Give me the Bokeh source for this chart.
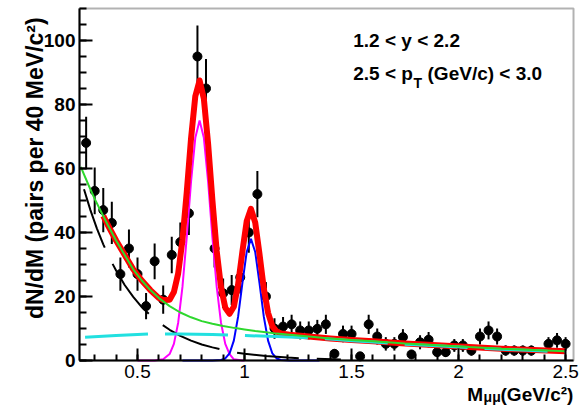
from bokeh.plotting import figure
from bokeh.models import Range1d, SingleIntervalTicker, CustomJSTickFormatter, Label, BoxAnnotation
from bokeh.embed import file_html
from bokeh.resources import INLINE

# ---- data points (M, counts per 40 MeV, error) ----
mass = [0.26, 0.30, 0.34, 0.38, 0.42, 0.46, 0.50, 0.54, 0.58, 0.62,
        0.66, 0.70, 0.74, 0.78, 0.82, 0.86, 0.90, 0.94, 0.98, 1.02,
        1.06, 1.10, 1.14, 1.18, 1.22, 1.26, 1.30, 1.34, 1.38, 1.42,
        1.46, 1.50, 1.54, 1.58, 1.62, 1.66, 1.70, 1.74, 1.78, 1.82,
        1.86, 1.90, 1.94, 1.98, 2.02, 2.06, 2.10, 2.14, 2.18, 2.22,
        2.26, 2.30, 2.34, 2.42, 2.46, 2.50]
counts = [68, 53, 47, 43, 27, 35, 27, 17, 31, 19,
          33, 37, 46, 95, 85, 35, 21, 22, 26, 40,
          52, 20, 10, 10.6, 11.3, 9.4, 9.4, 9.9, 11.3, 2.1,
          8.3, 8.3, 1.3, 11.3, 7.5, 5.2, 5.2, 7.3, 1.9, 5.7,
          6.5, 2.6, 2.6, 4.7, 4.7, 3.1, 7.5, 9.4, 7.5, 3.1,
          3.1, 3.1, 3.1, 5.2, 6.3, 5.2]
errors = [8.2, 7.3, 6.9, 6.6, 5.2, 5.9, 5.2, 4.1, 5.6, 4.4,
          5.7, 6.1, 6.8, 9.7, 9.2, 5.9, 4.6, 4.7, 5.1, 6.3,
          7.2, 4.5, 3.2, 3.0, 3.0, 2.8, 2.8, 2.8, 3.0, 1.4,
          2.6, 2.6, 1.1, 3.0, 2.5, 2.1, 2.1, 2.5, 1.3, 2.2,
          2.4, 1.5, 1.5, 2.0, 2.0, 1.6, 2.5, 2.8, 2.5, 1.6,
          1.6, 1.6, 1.6, 2.1, 2.3, 2.1]

# ---- fit components ----
omega_x = [0.50, 0.58, 0.62, 0.65, 0.67, 0.69, 0.71, 0.73, 0.75, 0.77, 0.79,
           0.81, 0.83, 0.85, 0.87, 0.89, 0.91, 0.93, 0.95, 0.99, 1.00]
omega_y = [0, 0.02, 0.36, 2.0, 5.2, 11.8, 23.0, 38.5, 55.8, 69.6, 75,
           69.6, 55.8, 38.5, 23.0, 11.8, 5.2, 2.0, 0.36, 0.02, 0]

phi_x = [0.71, 0.85, 0.89, 0.91, 0.93, 0.95, 0.97, 0.99, 1.01, 1.03, 1.05,
         1.07, 1.09, 1.11, 1.13, 1.15, 1.17, 1.21, 1.35]
phi_y = [0, 0, 0.15, 0.64, 2.2, 6.2, 13.7, 24.2, 33.9, 38, 33.9,
         24.2, 13.7, 6.2, 2.2, 0.64, 0.15, 0, 0]

bkg_x = [0.235, 0.27, 0.30, 0.33, 0.36, 0.40, 0.44, 0.48, 0.52, 0.56, 0.60,
         0.65, 0.70, 0.75, 0.80, 0.85, 0.90, 0.95, 1.00, 1.05, 1.10, 1.15,
         1.20, 1.30, 1.40, 1.50, 1.60, 1.75, 1.90, 2.05, 2.20, 2.35, 2.50]
bkg_y = [60.5, 55, 50.5, 46.5, 42.5, 37.5, 33, 28.5, 25, 22, 19.5,
         17, 15, 13.5, 12.3, 11.5, 10.8, 10.2, 9.7, 9.2, 8.8, 8.4,
         8.1, 7.5, 6.9, 6.4, 6.0, 5.3, 4.8, 4.2, 3.7, 3.3, 2.9]

total_x = [0.34, 0.36, 0.40, 0.44, 0.48, 0.52, 0.56, 0.60, 0.62, 0.65, 0.67,
           0.69, 0.71, 0.73, 0.75, 0.77, 0.79, 0.81, 0.83, 0.85, 0.87, 0.89,
           0.91, 0.93, 0.95, 0.97, 0.99, 1.01, 1.03, 1.05, 1.07, 1.09, 1.11,
           1.13, 1.15, 1.17, 1.21, 1.30, 1.40, 1.50, 1.60, 1.75, 1.90, 2.05,
           2.20, 2.35, 2.50]
total_y = [45.2, 42.5, 37.5, 33, 28.5, 25, 22, 19.5, 18.9, 19.0, 21.4,
           27.2, 37.7, 52.6, 69.3, 82.6, 87.5, 81.8, 67.6, 50.0, 34.2, 22.9,
           16.5, 14.6, 16.8, 23.8, 34.0, 43.5, 47.4, 43.1, 33.2, 22.5, 14.9,
           10.7, 9.05, 8.45, 8.05, 7.5, 6.9, 6.4, 6.0, 5.3, 4.8, 4.2,
           3.7, 3.3, 2.9]

flat_x = [0.255, 0.40, 0.55, 0.70, 0.85, 1.00, 1.15, 1.30, 1.40, 1.50, 1.60,
          1.75, 1.90, 2.05, 2.20, 2.35, 2.50]
flat_y = [7.3, 7.8, 8.3, 8.3, 8.1, 7.8, 7.5, 7.1, 6.7, 6.2, 5.8,
          5.1, 4.6, 4.0, 3.5, 3.1, 2.7]

exp_x = [0.25, 0.28, 0.31, 0.34, 0.37, 0.40, 0.44, 0.48, 0.52, 0.56, 0.60,
         0.65, 0.70, 0.75, 0.80, 0.85, 0.90, 0.95, 1.00, 1.10, 1.20, 1.30, 1.45]
exp_y = [53.5, 47.0, 41.3, 36.3, 31.9, 28.1, 23.6, 19.9, 16.7, 14.1, 11.9,
         9.6, 7.7, 6.2, 5.0, 4.1, 3.3, 2.6, 2.1, 1.4, 0.9, 0.6, 0.3]

X_LO, X_HI = 0.229, 2.537
Y_LO, Y_HI = 0, 110

FONT = "Liberation Sans"

# frame spans the whole canvas; axes are pinned at the data box edges
p = figure(width=581, height=406, output_backend="svg", toolbar_location=None,
           x_range=Range1d(-0.1401, 2.5743), y_range=Range1d(-14.375, 112.5),
           min_border=0, min_border_left=0, min_border_right=0,
           min_border_top=0, min_border_bottom=0)
p.grid.visible = False
p.outline_line_color = None
p.background_fill_color = "white"
p.border_fill_color = "white"

p.xaxis.ticker = SingleIntervalTicker(interval=0.5, num_minor_ticks=5)
p.xaxis.formatter = CustomJSTickFormatter(code="return (Math.round(tick*10)/10).toString();")
p.xaxis.fixed_location = Y_LO
p.xaxis.bounds = (X_LO, X_HI)
p.yaxis.ticker = SingleIntervalTicker(interval=20, num_minor_ticks=4)
p.yaxis.fixed_location = X_LO
p.yaxis.bounds = (Y_LO, Y_HI)
for ax, mj, mn in ((p.xaxis, 12, 6), (p.yaxis, 13, 7)):
    ax.axis_line_width = 2
    ax.axis_line_color = "black"
    ax.major_tick_in = mj
    ax.major_tick_out = 0
    ax.minor_tick_in = mn
    ax.minor_tick_out = 0
    ax.major_tick_line_width = 2
    ax.minor_tick_line_width = 2
    ax.major_label_text_font = FONT
    ax.major_label_text_font_size = "19px"
    ax.major_label_text_color = "black"
p.yaxis.major_label_text_font_style = "bold"
p.yaxis.major_label_standoff = 4
p.xaxis.major_label_standoff = 4

p.add_layout(BoxAnnotation(left=X_LO, right=X_HI, bottom=Y_LO, top=Y_HI,
                           fill_alpha=0, fill_color=None, line_color="black",
                           line_width=2))

# data with error bars
lower = [c - e for c, e in zip(counts, errors)]
upper = [c + e for c, e in zip(counts, errors)]
p.segment(mass, lower, mass, upper, line_color="black", line_width=2)
p.scatter(mass, counts, size=9, color="black")

# fit curves
p.line(omega_x, omega_y, line_color="#ff00ff", line_width=2)
p.line(phi_x, phi_y, line_color="#0000ff", line_width=2)
p.line(exp_x, exp_y, line_color="black", line_width=2, line_dash="62 18")
p.line(total_x, total_y, line_color="#ff0000", line_width=6, line_join="round")
p.line(flat_x, flat_y, line_color="#22e0e0", line_width=3, line_dash="63 17")
p.line(bkg_x, bkg_y, line_color="#2ed82e", line_width=2)

def lab(x, y, text, size="19px", **kw):
    p.add_layout(Label(x=x, y=y, text=text, text_font=FONT, text_font_size=size,
                       text_font_style="bold", text_color="black",
                       text_baseline="alphabetic", **kw))

lab(1.508, 100, "1.2 < y < 2.2")
lab(1.508, 89.6, "2.5 < p")
lab(1.789, 86.8, "T", size="14px")
lab(1.855, 89.6, "(GeV/c) < 3.0")

lab(2.040, -10.6, "M")
lab(2.117, -11.5, "μμ", size="14px")
lab(2.196, -10.6, "(GeV/c²)")

lab(0.0188, 107.2, "dN/dM (pairs per 40 MeV/c²)", size="23px",
    angle=90, angle_units="deg", text_align="right")

open("out.html", "w").write(file_html(p, INLINE))
